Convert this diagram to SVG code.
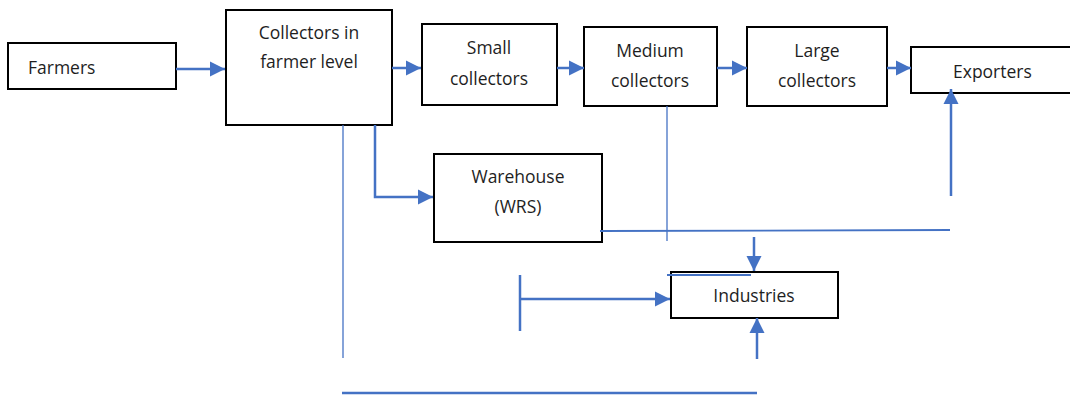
<svg xmlns="http://www.w3.org/2000/svg" width="1070" height="396" viewBox="0 0 1070 396">
  <style>
    .box { fill: #ffffff; stroke: #000000; stroke-width: 2; }
    .lbl { font-family: "Open Sans", "Liberation Sans", sans-serif; font-size: 17.5px; fill: #1e1e1e; }
    .mid { text-anchor: middle; }
    .flow { fill: none; stroke: #4472c4; stroke-width: 2.5; }
    .thin { fill: none; stroke: #4472c4; stroke-width: 1.3; }
    .mid-line { fill: none; stroke: #4472c4; stroke-width: 1.8; }
  </style>
  <defs>
    <marker id="arrow" markerUnits="userSpaceOnUse" markerWidth="16" markerHeight="16" viewBox="0 0 16 16" refX="15" refY="8" orient="auto">
      <path d="M0,0.5 L15,8 L0,15.5 Z" fill="#4472c4"/>
    </marker>
  </defs>

  <g id="farmers">
    <rect class="box" x="8" y="43" width="168" height="46"/>
    <text class="lbl" x="28" y="74">Farmers</text>
  </g>
  <g id="collectors-farmer-level">
    <rect class="box" x="226" y="10" width="166" height="115"/>
    <text class="lbl mid" x="309" y="39">Collectors in</text>
    <text class="lbl mid" x="309" y="68">farmer level</text>
  </g>
  <g id="small-collectors">
    <rect class="box" x="422" y="24" width="135" height="81"/>
    <text class="lbl mid" x="489" y="54">Small</text>
    <text class="lbl mid" x="489" y="85">collectors</text>
  </g>
  <g id="medium-collectors">
    <rect class="box" x="584" y="27" width="133" height="79"/>
    <text class="lbl mid" x="650" y="57">Medium</text>
    <text class="lbl mid" x="650" y="87">collectors</text>
  </g>
  <g id="large-collectors">
    <rect class="box" x="747" y="27" width="140" height="79"/>
    <text class="lbl mid" x="817" y="57">Large</text>
    <text class="lbl mid" x="817" y="87">collectors</text>
  </g>
  <g id="exporters">
    <rect class="box" x="911" y="47" width="162" height="46"/>
    <text class="lbl" x="953" y="78">Exporters</text>
  </g>
  <g id="warehouse">
    <rect class="box" x="434" y="154" width="168" height="88"/>
    <text class="lbl mid" x="518" y="183">Warehouse</text>
    <text class="lbl mid" x="518" y="213">(WRS)</text>
  </g>
  <g id="industries">
    <rect class="box" x="671" y="272" width="167" height="46"/>
    <text class="lbl mid" x="754" y="302">Industries</text>
  </g>

  <!-- connectors are drawn last so the short bar sits over the Industries top edge -->
  <g id="connectors">
    <!-- main chain -->
    <line class="flow" x1="176" y1="69" x2="225" y2="69" marker-end="url(#arrow)"/>
    <line class="flow" x1="392" y1="68" x2="421" y2="68" marker-end="url(#arrow)"/>
    <line class="flow" x1="557" y1="68" x2="584" y2="68" marker-end="url(#arrow)"/>
    <line class="flow" x1="717" y1="68" x2="747" y2="68" marker-end="url(#arrow)"/>
    <line class="flow" x1="887" y1="68" x2="911" y2="68" marker-end="url(#arrow)"/>
    <!-- collectors to warehouse -->
    <polyline class="flow" points="375,125 375,197 433,197" marker-end="url(#arrow)"/>
    <!-- up into exporters -->
    <line class="flow" x1="951" y1="196" x2="951" y2="89" marker-end="url(#arrow)"/>
    <!-- thin lines -->
    <line class="thin" x1="343" y1="125" x2="343" y2="358"/>
    <line class="thin" x1="667" y1="106" x2="667" y2="241"/>
    <line class="mid-line" x1="600" y1="231" x2="950" y2="230"/>
    <line class="mid-line" x1="667" y1="275" x2="751" y2="275"/>
    <!-- into industries -->
    <line class="flow" x1="754" y1="237" x2="754" y2="271" marker-end="url(#arrow)"/>
    <line class="flow" x1="520" y1="275" x2="520" y2="331"/>
    <line class="flow" x1="520" y1="299" x2="670" y2="299" marker-end="url(#arrow)"/>
    <line class="flow" x1="757" y1="359" x2="757" y2="318" marker-end="url(#arrow)"/>
    <line class="flow" x1="342" y1="393" x2="757" y2="393"/>
  </g>
</svg>
